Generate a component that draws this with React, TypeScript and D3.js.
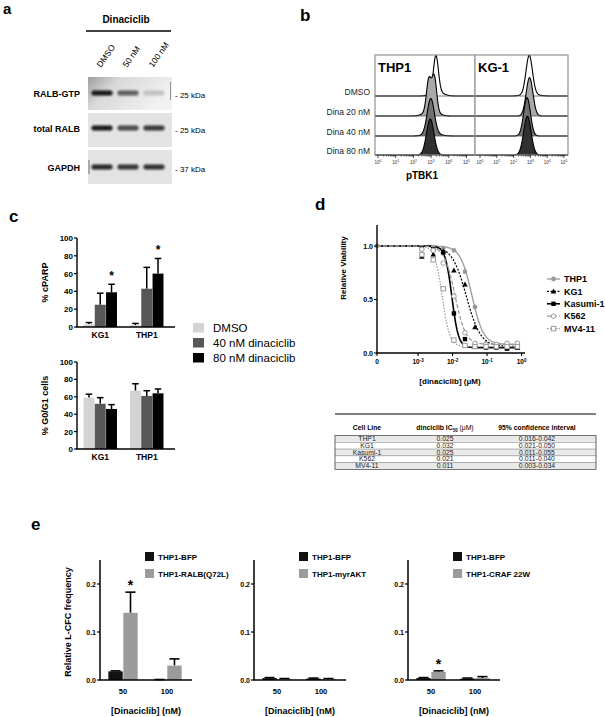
import React from "react";
import * as d3 from "d3";

const FONT = "'Liberation Sans', Arial, Helvetica, sans-serif";

// ---------- Panel a: western blot ----------
const blotLanes = ["DMSO", "50 nM", "100 nM"];
const blotRows = ["RALB-GTP", "total RALB", "GAPDH"];
const blotMarkers = ["- 25 kDa", "- 25 kDa", "- 37 kDa"];
const ralbGtpBands = [0.95, 0.62, 0.18];
const totalRalbBands = [0.95, 0.72, 0.8];
const gapdhBands = [0.88, 0.82, 0.84];

// ---------- Panel b: flow histograms (log10 peak, sigma, rel. height) ----------
const flowRows = ["DMSO", "Dina 20 nM", "Dina 40 nM", "Dina 80 nM"];
const flowCells = ["THP1", "KG-1"];
const thp1Peaks = [
  [[3.27, 0.14, 0.92], [3.35, 0.33, 0.1]],
  [[2.87, 0.13, 0.78], [3.18, 0.13, 0.86], [3.0, 0.35, 0.15]],
  [[2.98, 0.2, 0.88], [3.1, 0.4, 0.06]],
  [[2.95, 0.21, 0.9]],
];
const kg1Peaks = [
  [[2.93, 0.19, 0.97], [3.0, 0.4, 0.05]],
  [[2.95, 0.2, 0.96]],
  [[2.8, 0.2, 0.96]],
  [[2.82, 0.22, 0.97]],
];
const flowDecades = [0, 1, 2, 3, 4, 5];

// ---------- Panel c ----------
const cGroups = ["KG1", "THP1"];
const cTreatments = ["DMSO", "40 nM dinaciclib", "80 nM dinaciclib"];
const cparpMean = [[3, 25, 39], [2, 43, 60]];
const cparpErr = [[2, 13, 9], [2, 24, 17]];
const cparpStar = [false, false, true];
const g0g1Mean = [[59, 52, 46], [67, 61, 64]];
const g0g1Err = [[4, 7, 5], [8, 6, 5]];
const cTicks = [0, 20, 40, 60, 80, 100];

// ---------- Panel d ----------
const dSeries = ["THP1", "KG1", "Kasumi-1", "K562", "MV4-11"];
const dLogConc = [-2.89, -2.56, -2.27, -1.96, -1.64, -1.35, -1.03, -0.73, -0.42, -0.12];
const dThp1 = [0.99, 0.99, 0.98, 0.96, 0.76, 0.43, 0.09, 0.08, 0.09, 0.09];
const dKg1 = [0.9, 0.92, 0.95, 0.77, 0.64, 0.24, 0.07, 0.07, 0.05, 0.05];
const dKasumi = [0.98, 0.97, 0.94, 0.37, 0.13, 0.06, 0.05, 0.05, 0.04, 0.05];
const dK562 = [0.97, 0.96, 0.84, 0.53, 0.19, 0.09, 0.08, 0.08, 0.09, 0.09];
const dMv411 = [0.92, 0.87, 0.6, 0.12, 0.07, 0.06, 0.06, 0.06, 0.06, 0.06];
const dFitLogIC50 = [-1.44, -1.6, -2.02, -1.93, -2.3];
const dFitHill = [2.6, 2.1, 4.5, 2.8, 4.0];
const dFitBottom = [0.08, 0.06, 0.05, 0.08, 0.06];
const dYTicks = [0, 0.5, 1.0];
const dXTicks = [-3, -2, -1, 0];

// ---------- Table ----------
const tableHeader = ["Cell Line", "dinciclib IC", "95% confidence interval"];
const tableCells = ["THP1", "KG1", "Kasumi-1", "K562", "MV4-11"];
const tableIC50 = ["0.025", "0.032", "0.025", "0.021", "0.011"];
const tableCI = ["0.016-0.042", "0.021-0.050", "0.011-0.055", "0.011-0.040", "0.003-0.034"];

// ---------- Panel e ----------
const eDoses = ["50", "100"];
const eConstructs = ["THP1-RALB(Q72L)", "THP1-myrAKT", "THP1-CRAF 22W"];
const eBfpMean = [[0.018, 0.0], [0.004, 0.003], [0.004, 0.003]];
const eBfpErr = [[0.001, 0.001], [0.001, 0.001], [0.001, 0.001]];
const eMutMean = [[0.14, 0.03], [0.002, 0.002], [0.017, 0.004]];
const eMutErr = [[0.043, 0.014], [0.001, 0.001], [0.002, 0.003]];
const eStar = [[true, false], [false, false], [true, false]];
const eTicks = [0, 0.1, 0.2];

function Star({ x, y, size = 13 }: { x: number; y: number; size?: number }) {
  return (
    <text x={x} y={y} textAnchor="middle" fontSize={size} fontWeight="bold">
      *
    </text>
  );
}

function PanelA() {
  const laneX = d3.scalePoint<string>().domain(blotLanes).range([102, 154]);
  const boxes = [
    { y0: 77, y1: 110, band: 93, vals: ralbGtpBands },
    { y0: 113, y1: 147, band: 128, vals: totalRalbBands },
    { y0: 150, y1: 184, band: 167, vals: gapdhBands },
  ];
  return (
    <g>
      <defs>
        <linearGradient id="gtpBg" x1="0" x2="1" y1="0" y2="0.4">
          <stop offset="0" stopColor="#9e9e9e" />
          <stop offset="0.35" stopColor="#d9d9d9" />
          <stop offset="1" stopColor="#f1f1f1" />
        </linearGradient>
        <filter id="blur1" x="-30%" y="-100%" width="160%" height="300%">
          <feGaussianBlur stdDeviation="1.1" />
        </filter>
      </defs>
      <text x={3} y={14} fontSize={15} fontWeight="bold">a</text>
      <text x={126} y={23} fontSize={10} fontWeight="bold" textAnchor="middle">Dinaciclib</text>
      <line x1={86} x2={171} y1={31} y2={31} stroke="#000" strokeWidth={1.6} />
      {blotLanes.map((l) => (
        <text key={l} x={0} y={0} fontSize={8.5} transform={`translate(${(laneX(l) as number) - 1},68) rotate(-55)`}>
          {l}
        </text>
      ))}
      {boxes.map((b, i) => (
        <g key={i}>
          <rect x={88} y={b.y0} width={84} height={b.y1 - b.y0} fill={i === 0 ? "url(#gtpBg)" : "#e3e3e3"} />
          {b.vals.map((v, j) => (
            <rect
              key={j}
              x={(laneX(blotLanes[j]) as number) - 10.5}
              y={b.band - 2.6}
              width={21}
              height={5.2}
              rx={2}
              fill="#0a0a0a"
              opacity={v}
              filter="url(#blur1)"
            />
          ))}
          <text x={80} y={b.band + 4} fontSize={9} fontWeight="bold" textAnchor="end">
            {blotRows[i]}
          </text>
          <text x={175} y={b.band + 5} fontSize={8}>
            {blotMarkers[i]}
          </text>
        </g>
      ))}
      <line x1={170.5} x2={170.5} y1={82} y2={100} stroke="#777" strokeWidth={0.8} />
      <line x1={89} x2={89} y1={160} y2={174} stroke="#555" strokeWidth={0.8} />
    </g>
  );
}

function PanelB() {
  const top = 55;
  const baselines = [96, 116, 136, 155];
  const H = 40;
  const panels = [
    { name: flowCells[0], x: d3.scaleLinear().domain([0, 5]).range([378, 466.5]), x0: 375, x1: 475, peaks: thp1Peaks },
    { name: flowCells[1], x: d3.scaleLinear().domain([0, 5]).range([480, 564]), x0: 475, x1: 568, peaks: kg1Peaks },
  ];
  const fills = ["#ffffff", "#a8a8a8", "#707070", "#303030"];
  const dens = (pk: number[][], l: number) =>
    d3.sum(pk, (p) => p[2] * Math.exp(-0.5 * ((l - p[0]) / p[1]) ** 2));
  return (
    <g>
      <text x={300} y={21} fontSize={17} fontWeight="bold">b</text>
      {panels.map((p, pi) => {
        const lo = p.x.invert(p.x0);
        const hi = p.x.invert(p.x1);
        const ls = d3.range(lo, hi + 0.001, 0.02);
        return (
          <g key={pi}>
            <rect x={p.x0} y={top} width={p.x1 - p.x0} height={155 - top} fill="#fff" stroke="#9a9a9a" strokeWidth={0.8} />
            {p.peaks.map((pk, ri) => {
              const base = baselines[ri];
              const area = d3
                .area<number>()
                .x((l) => p.x(l))
                .y0(base)
                .y1((l) => base - H * dens(pk, l))
                .curve(d3.curveBasis);
              const line = d3
                .line<number>()
                .x((l) => p.x(l))
                .y((l) => base - H * dens(pk, l))
                .curve(d3.curveBasis);
              return (
                <g key={ri}>
                  <path d={area(ls) || ""} fill={fills[ri]} />
                  <path d={line(ls) || ""} fill="none" stroke="#000" strokeWidth={1.1} />
                  <line x1={p.x0} x2={p.x1} y1={base} y2={base} stroke="#555" strokeWidth={0.8} />
                </g>
              );
            })}
            <rect x={p.x0} y={top} width={p.x1 - p.x0} height={155 - top} fill="none" stroke="#9a9a9a" strokeWidth={0.8} />
            <text x={p.x0 + 3} y={72} fontSize={13} fontWeight="bold">{p.name}</text>
            {flowDecades.map((d) => (
              <g key={d}>
                <line x1={p.x(d)} x2={p.x(d)} y1={155} y2={158} stroke="#000" strokeWidth={0.7} />
                {d < 5 &&
                  d3.range(2, 10).map((m) => {
                    const xx = p.x(d + Math.log10(m));
                    return <line key={m} x1={xx} x2={xx} y1={155} y2={156.6} stroke="#000" strokeWidth={0.5} />;
                  })}
                <text x={p.x(d)} y={164} fontSize={4.5} textAnchor="middle" fill="#333">
                  10<tspan dy={-2} fontSize={3.5}>{d}</tspan>
                </text>
              </g>
            ))}
          </g>
        );
      })}
      {flowRows.map((r, i) => (
        <text key={r} x={370} y={baselines[i] - 1} fontSize={8.5} textAnchor="end" fill="#222">
          {r}
        </text>
      ))}
      <text x={422} y={179} fontSize={10} fontWeight="bold" textAnchor="middle">pTBK1</text>
    </g>
  );
}

function BarChartC({ y0, y100, means, errs, stars, label }: any) {
  const xG = d3.scaleBand<string>().domain(cGroups).range([77, 170]).paddingInner(0.28).paddingOuter(0.14);
  const xT = d3.scaleBand<string>().domain(cTreatments).range([0, xG.bandwidth()]).paddingInner(0.03);
  const y = d3.scaleLinear().domain([0, 100]).range([y0, y100]);
  const colors = ["#d3d3d3", "#575757", "#000000"];
  return (
    <g>
      {cGroups.map((g, gi) => (
        <g key={g}>
          {cTreatments.map((t, ti) => {
            const bx = (xG(g) as number) + (xT(t) as number);
            const bw = xT.bandwidth();
            const m = means[gi][ti];
            const e = errs[gi][ti];
            return (
              <g key={t}>
                <line x1={bx + bw / 2} x2={bx + bw / 2} y1={y(m)} y2={y(m + e)} stroke="#000" strokeWidth={1.5} />
                <line x1={bx + bw * 0.2} x2={bx + bw * 0.8} y1={y(m + e)} y2={y(m + e)} stroke="#000" strokeWidth={1.5} />
                <rect x={bx} y={y(m)} width={bw} height={y(0) - y(m)} fill={colors[ti]} />
                {stars && stars[ti] && <Star x={bx + bw / 2} y={y(m + e) - 4} size={12} />}
              </g>
            );
          })}
          <text x={(xG(g) as number) + xG.bandwidth() / 2} y={y0 + 11} fontSize={8.5} fontWeight="bold" textAnchor="middle">
            {g}
          </text>
        </g>
      ))}
      <line x1={77} x2={77} y1={y(0)} y2={y(100)} stroke="#000" strokeWidth={1.4} />
      <line x1={76.3} x2={175} y1={y(0)} y2={y(0)} stroke="#000" strokeWidth={1.4} />
      {cTicks.map((t) => (
        <g key={t}>
          <line x1={74} x2={77} y1={y(t)} y2={y(t)} stroke="#000" strokeWidth={1.2} />
          <text x={73} y={y(t) + 3} fontSize={8} fontWeight="bold" textAnchor="end">{t}</text>
        </g>
      ))}
      <text transform={`translate(48,${(y0 + y100) / 2}) rotate(-90)`} fontSize={9} fontWeight="bold" textAnchor="middle">
        {label}
      </text>
    </g>
  );
}

function PanelC() {
  const colors = ["#d3d3d3", "#575757", "#000000"];
  return (
    <g>
      <text x={9} y={222} fontSize={17} fontWeight="bold">c</text>
      <BarChartC y0={327} y100={238} means={cparpMean} errs={cparpErr} stars={cparpStar} label="% cPARP" />
      <BarChartC y0={449} y100={362} means={g0g1Mean} errs={g0g1Err} stars={null} label="% G0/G1 cells" />
      {cTreatments.map((t, i) => (
        <g key={t}>
          <rect x={193} y={323 + i * 15} width={11} height={9.5} fill={colors[i]} />
          <text x={213} y={332 + i * 15} fontSize={11.5}>{t}</text>
        </g>
      ))}
    </g>
  );
}

function Marker({ kind, x, y }: { kind: number; x: number; y: number }) {
  if (kind === 0) return <circle cx={x} cy={y} r={2.4} fill="#9a9a9a" />;
  if (kind === 1)
    return <path d={`M${x},${y - 3} L${x + 2.8},${y + 2} L${x - 2.8},${y + 2} Z`} fill="#000" />;
  if (kind === 2) return <rect x={x - 2.2} y={y - 2.2} width={4.4} height={4.4} fill="#000" />;
  if (kind === 3) return <circle cx={x} cy={y} r={2.3} fill="#fff" stroke="#9a9a9a" strokeWidth={1} />;
  return <rect x={x - 2.2} y={y - 2.2} width={4.4} height={4.4} fill="#fff" stroke="#9a9a9a" strokeWidth={1} />;
}

function PanelD() {
  const x = d3.scaleLinear().domain([-4.19, 0.1]).range([377, 525]);
  const y = d3.scaleLinear().domain([0, 1]).range([353, 246]);
  const data = [dThp1, dKg1, dKasumi, dK562, dMv411];
  const strokes = ["#9a9a9a", "#000", "#000", "#9a9a9a", "#9a9a9a"];
  const dashes = ["", "2,1.5", "", "4,2", "1.5,1.5"];
  const widths = [1.3, 1.2, 1.6, 1.3, 1.2];
  const ls = d3.range(-4.19, -0.1, 0.02);
  const fit = (i: number, l: number) =>
    dFitBottom[i] + (1 - dFitBottom[i]) / (1 + Math.pow(10, dFitHill[i] * (l - dFitLogIC50[i])));
  const line = (i: number) =>
    d3
      .line<number>()
      .x((l) => x(l))
      .y((l) => y(fit(i, l)))(ls) || "";
  return (
    <g>
      <text x={315} y={210} fontSize={17} fontWeight="bold">d</text>
      {dSeries.map((s, i) => (
        <path key={s} d={line(i)} fill="none" stroke={strokes[i]} strokeWidth={widths[i]} strokeDasharray={dashes[i]} />
      ))}
      {dSeries.map((s, i) => (
        <g key={s}>
          {data[i].map((v, j) => (
            <Marker key={j} kind={i} x={x(dLogConc[j])} y={y(v)} />
          ))}
        </g>
      ))}
      <Marker kind={0} x={x(-4.19)} y={y(1)} />
      <line x1={377} x2={377} y1={225} y2={353} stroke="#000" strokeWidth={1.4} />
      <line x1={376.3} x2={525} y1={353} y2={353} stroke="#000" strokeWidth={1.4} />
      {dYTicks.map((t) => (
        <g key={t}>
          <line x1={374} x2={377} y1={y(t)} y2={y(t)} stroke="#000" strokeWidth={1.1} />
          <text x={373} y={y(t) + 2.5} fontSize={7} fontWeight="bold" textAnchor="end">{t.toFixed(1)}</text>
        </g>
      ))}
      <line x1={377} x2={377} y1={353} y2={356} stroke="#000" strokeWidth={1.1} />
      <text x={377} y={364} fontSize={6.5} fontWeight="bold" textAnchor="middle">0</text>
      {dXTicks.map((t) => (
        <g key={t}>
          <line x1={x(t)} x2={x(t)} y1={353} y2={356} stroke="#000" strokeWidth={1.1} />
          <text x={x(t)} y={364} fontSize={6.5} fontWeight="bold" textAnchor="middle">
            10<tspan dy={-2.5} fontSize={4.5}>{t}</tspan>
          </text>
        </g>
      ))}
      <text x={450} y={384} fontSize={8} fontWeight="bold" textAnchor="middle">
        [dinaciclib] (μM)
      </text>
      <text transform="translate(346,268) rotate(-90)" fontSize={8} fontWeight="bold" textAnchor="middle">
        Relative Viability
      </text>
      {dSeries.map((s, i) => {
        const ly = 279 + i * 12.4;
        return (
          <g key={s}>
            <line x1={547} x2={560} y1={ly} y2={ly} stroke={strokes[i]} strokeWidth={widths[i]} strokeDasharray={dashes[i]} />
            <Marker kind={i} x={553.5} y={ly} />
            <text x={564} y={ly + 3.2} fontSize={9} fontWeight="bold">{s}</text>
          </g>
        );
      })}
    </g>
  );
}

function TableD() {
  const x0 = 335;
  const x1 = 596;
  const rowY = d3.scaleBand<string>().domain(tableCells).range([435.5, 469.5]);
  const cols = [367, 445, 537];
  return (
    <g fontSize={6.8}>
      <line x1={x0} x2={x1} y1={414} y2={414} stroke="#000" strokeWidth={1} />
      <text x={cols[0]} y={430} fontWeight="bold" textAnchor="middle">{tableHeader[0]}</text>
      <text x={cols[1]} y={430} fontWeight="bold" textAnchor="middle">
        {tableHeader[1]}
        <tspan dy={1.5} fontSize={4.5}>50</tspan>
        <tspan dy={-1.5} fontWeight="normal"> (μM)</tspan>
      </text>
      <text x={cols[2]} y={430} fontWeight="bold" textAnchor="middle">{tableHeader[2]}</text>
      {tableCells.map((c, i) => {
        const yy = rowY(c) as number;
        const h = rowY.bandwidth();
        return (
          <g key={c}>
            <rect x={x0} y={yy} width={x1 - x0} height={h} fill={i % 2 === 0 ? "#e9e9e9" : "#ffffff"} stroke="#8a8a8a" strokeWidth={0.5} />
            <text x={cols[0]} y={yy + h - 1.3} textAnchor="middle" fill="#222">{c}</text>
            <text x={cols[1]} y={yy + h - 1.3} textAnchor="middle" fill="#222">{tableIC50[i]}</text>
            <text x={cols[2]} y={yy + h - 1.3} textAnchor="middle" fill="#222">{tableCI[i]}</text>
          </g>
        );
      })}
      <rect x={x0} y={435.5} width={x1 - x0} height={34} fill="none" stroke="#555" strokeWidth={0.7} />
    </g>
  );
}

function PanelE() {
  const axisX = [100, 254, 408];
  const y = d3.scaleLinear().domain([0, 0.25]).range([680, 560]);
  return (
    <g>
      <text x={31} y={530} fontSize={17} fontWeight="bold">e</text>
      {eConstructs.map((c, ci) => {
        const x0 = axisX[ci];
        const xG = d3.scaleBand<string>().domain(eDoses).range([x0, x0 + 90]).paddingInner(0.333).paddingOuter(0.19);
        const xS = d3.scaleBand<string>().domain(["BFP", "MUT"]).range([0, xG.bandwidth()]).paddingInner(0.04);
        const bw = xS.bandwidth();
        return (
          <g key={c}>
            {eDoses.map((d, di) => {
              const bars = [
                { k: "BFP", m: eBfpMean[ci][di], e: eBfpErr[ci][di], col: "#111" },
                { k: "MUT", m: eMutMean[ci][di], e: eMutErr[ci][di], col: "#9b9b9b" },
              ];
              return (
                <g key={d}>
                  {bars.map((b) => {
                    const bx = (xG(d) as number) + (xS(b.k) as number);
                    return (
                      <g key={b.k}>
                        <line x1={bx + bw / 2} x2={bx + bw / 2} y1={y(b.m)} y2={y(b.m + b.e)} stroke="#000" strokeWidth={1.6} />
                        <line x1={bx + bw * 0.15} x2={bx + bw * 0.85} y1={y(b.m + b.e)} y2={y(b.m + b.e)} stroke="#000" strokeWidth={1.6} />
                        <rect x={bx} y={y(b.m)} width={bw} height={y(0) - y(b.m)} fill={b.col} />
                        {b.k === "MUT" && eStar[ci][di] && <Star x={bx + bw / 2} y={y(b.m + b.e) - 2} size={14} />}
                      </g>
                    );
                  })}
                  <text x={(xG(d) as number) + xG.bandwidth() / 2} y={694} fontSize={7.5} fontWeight="bold" textAnchor="middle">
                    {d}
                  </text>
                </g>
              );
            })}
            <line x1={x0} x2={x0} y1={560} y2={680} stroke="#000" strokeWidth={1.5} />
            <line x1={x0 - 0.7} x2={x0 + 92} y1={680} y2={680} stroke="#000" strokeWidth={1.5} />
            {eTicks.map((t) => (
              <g key={t}>
                <line x1={x0 - 3} x2={x0} y1={y(t)} y2={y(t)} stroke="#000" strokeWidth={1.2} />
                <text x={x0 - 4} y={y(t) + 2.5} fontSize={7} fontWeight="bold" textAnchor="end">{t.toFixed(1)}</text>
              </g>
            ))}
            <text x={x0 + 46} y={714} fontSize={9} fontWeight="bold" textAnchor="middle">
              [Dinaciclib] (nM)
            </text>
            <rect x={x0 + 45} y={552} width={9} height={9} fill="#111" />
            <text x={x0 + 58} y={560} fontSize={8} fontWeight="bold">THP1-BFP</text>
            <rect x={x0 + 45} y={569} width={9} height={9} fill="#9b9b9b" />
            <text x={x0 + 58} y={577} fontSize={8} fontWeight="bold">{c}</text>
          </g>
        );
      })}
      <text transform="translate(71,622) rotate(-90)" fontSize={9} fontWeight="bold" textAnchor="middle">
        Relative L-CFC frequency
      </text>
    </g>
  );
}

export default function App() {
  return (
    <svg
      width={605}
      height={717}
      style={{ position: "absolute", left: 0, top: 0, display: "block", background: "#fff" }}
      fontFamily={FONT}
    >
      <rect width={605} height={717} fill="#fff" />
      <PanelA />
      <PanelB />
      <PanelC />
      <PanelD />
      <TableD />
      <PanelE />
    </svg>
  );
}
